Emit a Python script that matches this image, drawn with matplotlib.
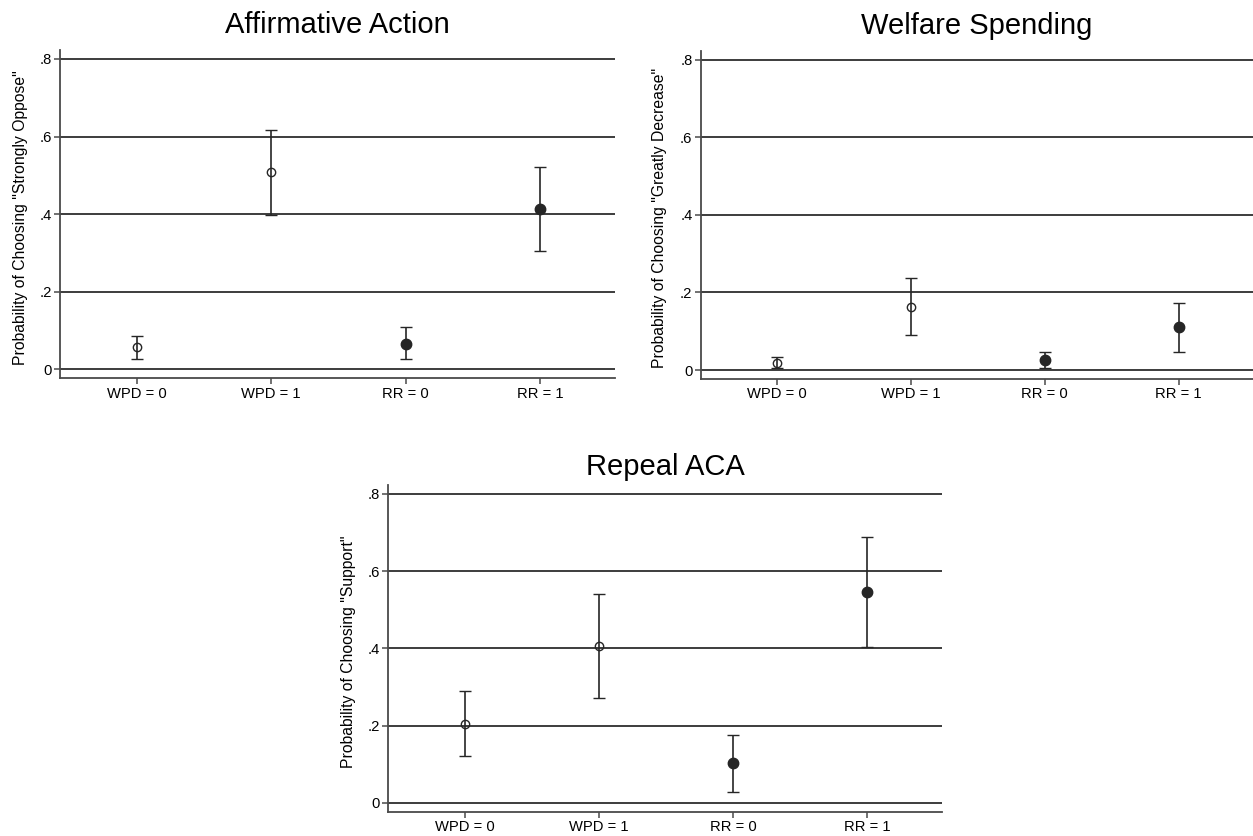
import matplotlib
matplotlib.use("Agg")
import matplotlib.pyplot as plt
import numpy as np

plt.rcParams["font.family"] = ["Liberation Sans", "DejaVu Sans"]

categories = ["WPD = 0", "WPD = 1", "RR = 0", "RR = 1"]
filled = [False, False, True, True]
ytick_vals = [0, 0.2, 0.4, 0.6, 0.8]
ytick_labels = ["0", ".2", ".4", ".6", ".8"]

# Affirmative Action
aa_est = [0.057, 0.508, 0.066, 0.413]
aa_lo = [0.026, 0.399, 0.026, 0.305]
aa_hi = [0.086, 0.617, 0.108, 0.521]

# Welfare Spending
ws_est = [0.019, 0.163, 0.026, 0.110]
ws_lo = [0.004, 0.089, 0.004, 0.046]
ws_hi = [0.033, 0.238, 0.046, 0.174]

# Repeal ACA
aca_est = [0.205, 0.405, 0.102, 0.545]
aca_lo = [0.120, 0.271, 0.028, 0.403]
aca_hi = [0.290, 0.540, 0.176, 0.687]

DARK = "#262626"
GRID = "#3c3c3c"


def draw_panel(ax, title, ylabel, est, lo, hi, title_pad, label_x):
    xs = np.arange(1, len(categories) + 1)
    for x, e, l, h, f in zip(xs, est, lo, hi, filled):
        ax.errorbar(
            [x], [e], yerr=[[e - l], [h - e]],
            fmt="o", color=DARK, ecolor=DARK, elinewidth=1.2,
            capsize=4, capthick=1.2,
            markersize=7.5 if f else 6,
            markerfacecolor=DARK if f else "none",
            markeredgecolor=DARK, markeredgewidth=1.0, zorder=3,
        )
    ax.set_xlim(0.43, 4.556)
    ax.set_ylim(-0.023, 0.823)
    ax.set_xticks(xs)
    ax.set_xticklabels(categories, fontsize=10.6)
    ax.set_yticks(ytick_vals)
    ax.set_yticklabels(ytick_labels, fontsize=10.6)
    ax.yaxis.grid(True, color=GRID, linewidth=1.4)
    ax.set_axisbelow(True)
    for s in ("top", "right"):
        ax.spines[s].set_visible(False)
    for s in ("left", "bottom"):
        ax.spines[s].set_color("#4a4a4a")
        ax.spines[s].set_linewidth(1.3)
    ax.tick_params(axis="both", direction="out", length=4.5, width=1.1,
                   color="#4a4a4a", pad=1.5)
    ax.set_title(title, fontsize=21, pad=title_pad)
    ax.set_ylabel(ylabel, fontsize=11.3)
    ax.yaxis.set_label_coords(label_x, 0.49)


fig = plt.figure(figsize=(12.53, 8.36), dpi=100)

ax1 = fig.add_axes([0.0479, 0.5475, 0.4429, 0.3927])
ax2 = fig.add_axes([0.5593, 0.5467, 0.4407, 0.3927])
ax3 = fig.add_axes([0.3097, 0.0291, 0.4421, 0.3908])

draw_panel(ax1, "Affirmative Action",
           'Probability of Choosing "Strongly Oppose"',
           aa_est, aa_lo, aa_hi, 12, -0.058)
draw_panel(ax2, "Welfare Spending",
           'Probability of Choosing "Greatly Decrease"',
           ws_est, ws_lo, ws_hi, 12, -0.061)
draw_panel(ax3, "Repeal ACA",
           'Probability of Choosing "Support"',
           aca_est, aca_lo, aca_hi, 7, -0.058)

fig.savefig("out.png", dpi=100)
plt.close(fig)
